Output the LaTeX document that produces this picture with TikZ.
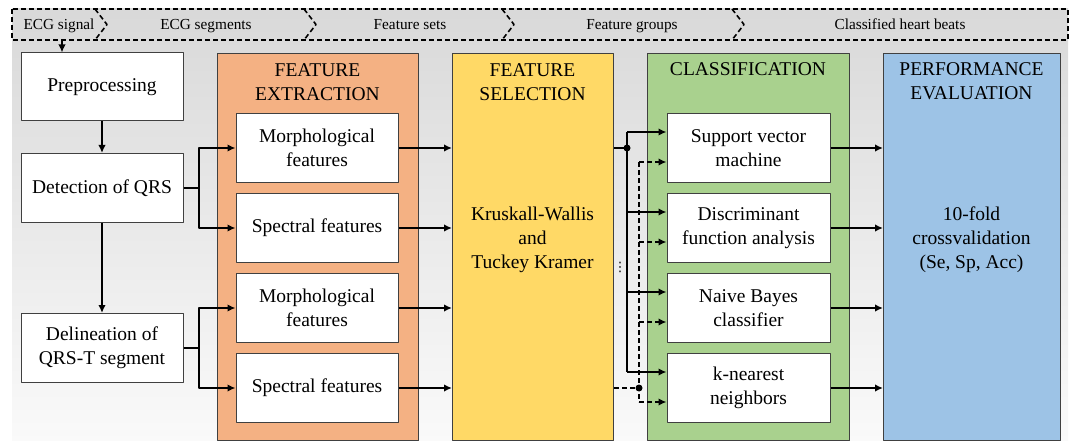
\documentclass[tikz,border=0pt]{standalone}
\usepackage{fontspec}
\setmainfont{Liberation Serif}
\newfontfamily\symbolfont{DejaVu Sans}
\usetikzlibrary{arrows.meta}
\definecolor{boxedge}{HTML}{404040}
\definecolor{extractorange}{HTML}{F4B183}
\definecolor{selectyellow}{HTML}{FFD966}
\definecolor{classgreen}{HTML}{A9D18E}
\definecolor{evalblue}{HTML}{9DC3E6}
\newcommand{\boxfont}{\fontsize{19.5}{24}\selectfont}
\newcommand{\bannerfont}{\fontsize{15.3}{18}\selectfont}

\begin{document}
\begin{tikzpicture}[
  x=1pt,
  y=-1pt,
  line join=round,
  stage/.style={draw=boxedge,fill=white,line width=1pt,minimum width=162pt,minimum height=69pt,inner sep=0pt,align=center,font=\boxfont},
  panel/.style={draw=boxedge,line width=1pt,minimum height=387pt,anchor=north west,inner sep=0pt},
  heading/.style={inner sep=0pt,align=center,font=\boxfont},
  banner/.style={draw=black,line width=1.6pt,dash pattern=on 5pt off 3pt},
  bannertext/.style={font=\bannerfont,inner sep=0pt,anchor=base},
  link/.style={draw=black,line width=2pt},
  flow/.style={link,-{Latex[length=8pt,width=7.5pt]}},
  dashflow/.style={flow,dash pattern=on 5pt off 3pt}
]
  \useasboundingbox (0,0) rectangle (1072,441);

  % Grey backdrop, darker at the top.
  \shade[top color=black!15,bottom color=black!2] (12,9) rectangle (1068,441);

  % Data banner with chevron separators.
  \draw[banner] (12,9) rectangle (1068,40);
  \foreach \a in {95,304,502,732} {
    \draw[banner] (\a,9) -- (\a+12,24.5) -- (\a,40);
  }
  \node[bannertext] (sig) at (59,30) {ECG signal};
  \node[bannertext] (seg) at (206,30) {ECG segments};
  \node[bannertext] (sets) at (410,30) {Feature sets};
  \node[bannertext] (groups) at (632,30) {Feature groups};
  \node[bannertext] (beats) at (900,30) {Classified heart beats};

  % Coloured stage panels.
  \node[panel,fill=extractorange,minimum width=201pt] (extract) at (217,53) {};
  \node[panel,fill=selectyellow,minimum width=161pt] (select) at (452,53) {};
  \node[panel,fill=classgreen,minimum width=202pt] (classify) at (647,53) {};
  \node[panel,fill=evalblue,minimum width=177pt] (perf) at (883,53) {};

  \node[heading,anchor=north] (extracthead) at (317.5,63) {FEATURE\\EXTRACTION};
  \node[heading,anchor=north] (selecthead) at (532.5,63) {FEATURE\\SELECTION};
  \node[heading,anchor=base] (classhead) at (748,76) {CLASSIFICATION};
  \node[heading,anchor=north] (perfhead) at (971.5,62) {PERFORMANCE\\EVALUATION};
  \node[heading,anchor=north] (selectbody) at (532.5,207) {Kruskall-Wallis\\and\\Tuckey Kramer};
  \node[heading,anchor=north] (perfbody) at (971.5,207) {10-fold\\crossvalidation\\(Se, Sp, Acc)};

  % Preprocessing column.
  \node[stage,minimum height=68pt] (prep) at (102,87) {Preprocessing};
  \node[stage] (qrs) at (102,188) {Detection of QRS};
  \node[stage] (delin) at (102,348) {Delineation of\\QRS-T segment};

  % Feature boxes.
  \node[stage] (morphA) at (317,148) {Morphological\\features};
  \node[stage] (specA) at (317,228) {Spectral features};
  \node[stage] (morphB) at (317,308) {Morphological\\features};
  \node[stage] (specB) at (317,388) {Spectral features};

  % Classifier boxes.
  \node[stage,minimum width=163pt] (svm) at (748.5,148) {Support vector\\machine};
  \node[stage,minimum width=163pt] (dfa) at (748.5,228) {Discriminant\\function analysis};
  \node[stage,minimum width=163pt] (nbc) at (748.5,308) {Naive Bayes\\classifier};
  \node[stage,minimum width=163pt] (knn) at (748.5,388) {k-nearest\\neighbors};

  % Signal path down the first column.
  \coordinate (signal) at (62,40);
  \draw[flow] (signal) -- (signal |- prep.north);
  \draw[flow] (prep.south) -- (qrs.north);
  \draw[flow] (qrs.south) -- (delin.north);

  % Forks into the feature extractors.
  \draw[flow] (qrs.east) -- ([xshift=15pt]qrs.east) |- (morphA.west);
  \draw[flow] (qrs.east) -- ([xshift=15pt]qrs.east) |- (specA.west);
  \draw[flow] (delin.east) -- ([xshift=15pt]delin.east) |- (morphB.west);
  \draw[flow] (delin.east) -- ([xshift=15pt]delin.east) |- (specB.west);

  \foreach \f in {morphA,specA,morphB,specB} {
    \draw[flow] (\f.east) -- (\f.east -| select.west);
  }

  % Solid and dashed buses into the classifiers.
  \coordinate (solidbus) at (627,148);
  \coordinate (dashbus) at (639,388);
  \foreach \c in {svm,dfa,nbc,knn} {
    \coordinate (\c-top) at ([yshift=16pt]\c.west);
    \coordinate (\c-low) at ([yshift=-14pt]\c.west);
  }
  \draw[link] (select.east |- solidbus) -- (solidbus);
  \draw[link] (solidbus |- svm-top) -- (solidbus |- knn-top);
  \draw[link,dash pattern=on 5pt off 3pt] (select.east |- dashbus) -- (dashbus);
  \draw[link,dash pattern=on 5pt off 3pt] (dashbus |- svm-low) -- (dashbus |- knn-low);
  \foreach \c in {svm,dfa,nbc,knn} {
    \draw[flow] (solidbus |- \c-top) -- (\c-top);
    \draw[dashflow] (dashbus |- \c-low) -- (\c-low);
  }
  \fill (solidbus) circle[radius=3.5pt];
  \fill (dashbus) circle[radius=3.5pt];
  \node[inner sep=0pt,font=\symbolfont\fontsize{13}{14}\selectfont] (more) at (620,267) {⋮};

  \foreach \c in {svm,dfa,nbc,knn} {
    \draw[flow] (\c.east) -- (\c.east -| perf.west);
  }
\end{tikzpicture}
\end{document}
